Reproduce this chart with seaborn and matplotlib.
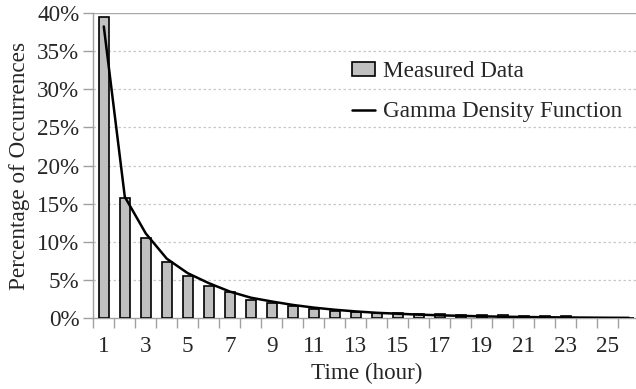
import numpy as np
import pandas as pd
import matplotlib
matplotlib.use("Agg")
import matplotlib.pyplot as plt
import seaborn as sns
from matplotlib.ticker import FixedLocator, FuncFormatter

# ---- data ----
hours = list(range(1, 27))
measured = [39.5, 15.7, 10.55, 7.35, 5.55, 4.25, 3.4, 2.45, 2.05, 1.55, 1.25, 1.0,
            0.8, 0.68, 0.75, 0.62, 0.57, 0.44, 0.48, 0.48, 0.3, 0.3, 0.33, 0.08,
            0.06, 0.03]
gamma_fit = [38.2, 15.9, 11.1, 7.8, 5.9, 4.6, 3.5, 2.7, 2.2, 1.75, 1.4, 1.12,
             0.9, 0.72, 0.6, 0.48, 0.39, 0.32, 0.26, 0.21, 0.17, 0.14, 0.11,
             0.09, 0.07, 0.06]
y_ticks = [0, 5, 10, 15, 20, 25, 30, 35, 40]
x_labels = [str(h) if h % 2 == 1 else "" for h in hours]

sns.set_style("white")
plt.rcParams["font.family"] = ["Liberation Serif", "DejaVu Serif"]
FS = 16.7

df = pd.DataFrame({"hour": [str(h) for h in hours], "measured": measured})

fig = plt.figure(figsize=(6.36, 3.89), dpi=100)
ax = fig.add_axes([93.3 / 636, 70.7 / 389, 546 / 636, 305.6 / 389])

sns.barplot(data=df, x="hour", y="measured", color="#c0c0c0", edgecolor="black",
            linewidth=1.2, width=0.45, saturation=1, ax=ax,
            label="Measured Data", zorder=3)
sns.lineplot(x=np.arange(len(hours)), y=gamma_fit, color="black", linewidth=1.8,
             ax=ax, label="Gamma Density Function", zorder=4)

ax.set_xlim(-0.5, len(hours) - 0.5)
ax.set_ylim(0, 40)

# grid
for v in y_ticks[1:]:
    if v == 40:
        ax.axhline(v, color="#a8a8a8", linewidth=1.0, zorder=1)
    else:
        ax.axhline(v, color="#c8c8c8", linewidth=0.9, linestyle=(0, (2, 2)), zorder=1)

ax.set_yticks(y_ticks)
ax.yaxis.set_major_formatter(FuncFormatter(lambda v, p: f"{int(v)}%"))
ax.set_xticks(np.arange(len(hours)))
ax.set_xticklabels(x_labels)
ax.xaxis.set_minor_locator(FixedLocator(np.arange(len(hours) + 1) - 0.5))
ax.tick_params(axis="x", which="major", length=0, pad=13, labelsize=FS)
ax.tick_params(axis="x", which="minor", length=7, width=1, color="#a0a0a0",
               direction="out", bottom=True)
ax.tick_params(axis="y", which="major", length=7, width=1, color="#a0a0a0",
               direction="out", left=True, labelsize=FS, pad=3)

for s in ["top", "right"]:
    ax.spines[s].set_visible(False)
for s in ["left", "bottom"]:
    ax.spines[s].set_color("#a0a0a0")
    ax.spines[s].set_linewidth(1.0)

ax.set_xlabel("Time (hour)", fontsize=FS, labelpad=4)
ax.set_ylabel("Percentage of Occurrences", fontsize=FS, labelpad=5)

handles, labels = ax.get_legend_handles_labels()
order = [labels.index("Measured Data"), labels.index("Gamma Density Function")]
leg = ax.legend([handles[i] for i in order], [labels[i] for i in order],
                loc="upper left", bbox_to_anchor=(0.474, 0.842), frameon=False,
                fontsize=FS, handlelength=1.0, handleheight=0.55,
                handletextpad=0.35, labelspacing=0.83, borderpad=0,
                borderaxespad=0)

fig.savefig("out.png", dpi=100)
